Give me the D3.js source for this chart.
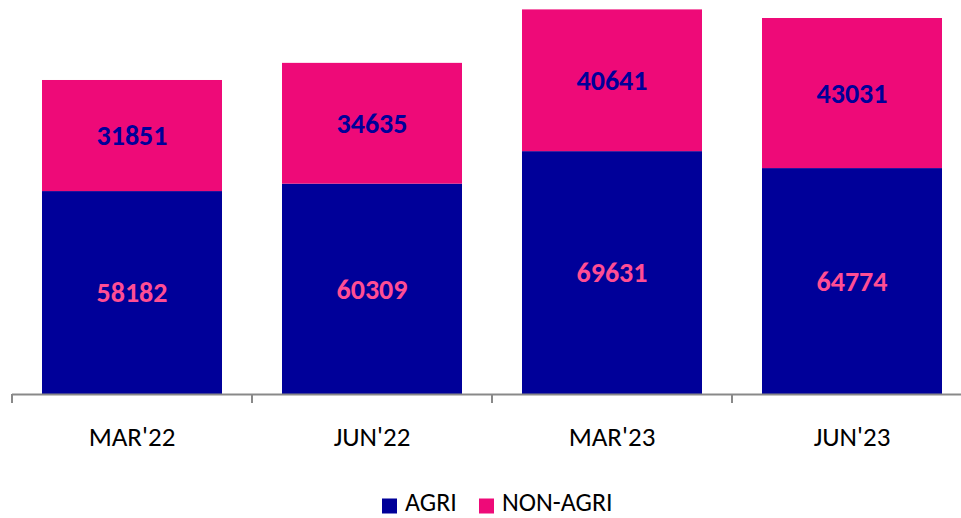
<!DOCTYPE html>
<html>
<head>
<meta charset="utf-8">
<script src="https://cdn.jsdelivr.net/npm/d3@7"></script>
<style>
  body { margin: 0; background: #fff; }
  svg { font-family: Carlito, "Open Sans", "Noto Sans", sans-serif; }
</style>
</head>
<body>
<svg id="chart"></svg>
<script>
const categories = ["MAR'22", "JUN'22", "MAR'23", "JUN'23"];
const agri = [58182, 60309, 69631, 64774];
const nonAgri = [31851, 34635, 40641, 43031];
const seriesNames = ["AGRI", "NON-AGRI"];

const BLUE = "#000099";
const PINK = "#ee0a78";
const PINK_TEXT = "#ff4d94";

const width = 961;
const height = 518;
const baseY = 394;

const svg = d3.select("#chart").attr("width", width).attr("height", height);

const x = d3.scaleBand()
   .domain(categories)
   .range([12, 972])
   .paddingInner(0.25)
   .paddingOuter(0.125);

const y = d3.scaleLinear()
   .domain([0, 110272])
   .range([baseY, 9.4]);

const rows = categories.map((c, i) => ({ cat: c, agri: agri[i], nonAgri: nonAgri[i] }));
const stacked = d3.stack().keys(["agri", "nonAgri"])(rows);
const fills = [BLUE, PINK];
const textFills = [PINK_TEXT, BLUE];

stacked.forEach((layer, li) => {
   const g = svg.append("g");
   g.selectAll("rect")
      .data(layer)
      .enter()
      .append("rect")
      .attr("x", d => x(d.data.cat))
      .attr("width", x.bandwidth())
      .attr("y", d => y(d[1]))
      .attr("height", d => y(d[0]) - y(d[1]))
      .attr("fill", fills[li]);
   g.selectAll("text")
      .data(layer)
      .enter()
      .append("text")
      .attr("x", d => x(d.data.cat) + x.bandwidth() / 2)
      .attr("y", d => (y(d[0]) + y(d[1])) / 2)
      .attr("dy", "0.35em")
      .attr("text-anchor", "middle")
      .attr("font-size", 28)
      .attr("font-weight", "bold")
      .attr("fill", textFills[li])
      .text(d => d[1] - d[0]);
});

// category axis
const axis = svg.append("g");
const step = x.step();
const edges = d3.range(categories.length + 1).map(i => 12 + i * step);
axis.append("line")
   .attr("x1", 12).attr("x2", 972)
   .attr("y1", baseY + 0.5).attr("y2", baseY + 0.5)
   .attr("stroke", "#898989").attr("stroke-width", 2);
axis.selectAll(".tick")
   .data(edges)
   .enter()
   .append("line")
   .attr("x1", d => d).attr("x2", d => d)
   .attr("y1", baseY).attr("y2", baseY + 9)
   .attr("stroke", "#898989").attr("stroke-width", 2);
axis.selectAll("text")
   .data(categories)
   .enter()
   .append("text")
   .attr("x", d => x(d) + x.bandwidth() / 2)
   .attr("y", 437)
   .attr("dy", "0.35em")
   .attr("text-anchor", "middle")
   .attr("font-size", 27)
   .attr("fill", "#000")
   .text(d => d);

// legend
const legend = svg.append("g").attr("transform", "translate(382, 506)");
const legendX = [0, 97];
seriesNames.forEach((name, i) => {
   legend.append("rect")
      .attr("x", legendX[i]).attr("y", -7.5)
      .attr("width", 15).attr("height", 15)
      .attr("fill", fills[i]);
   legend.append("text")
      .attr("x", legendX[i] + 23).attr("y", 5)
      .attr("font-size", 26)
      .attr("fill", "#000")
      .text(name);
});
</script>
</body>
</html>
